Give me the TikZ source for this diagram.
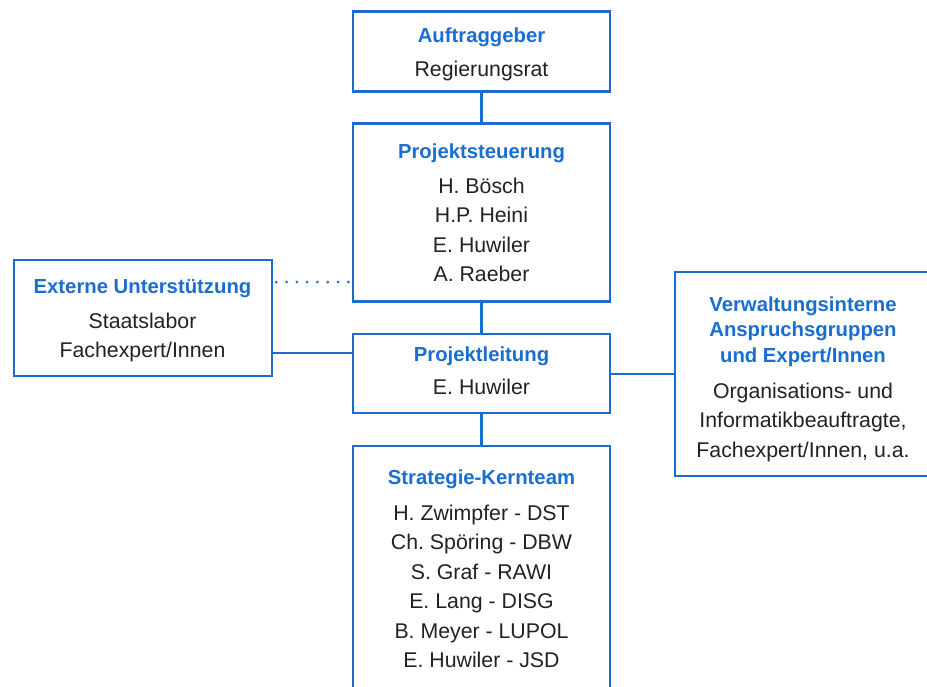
\documentclass[tikz,border=0pt]{standalone}
\usepackage{fontspec}
\setmainfont{Liberation Sans}
\frenchspacing
\definecolor{blu}{HTML}{1A6ED0}
\definecolor{txt}{HTML}{222222}
\begin{document}
\begin{tikzpicture}[x=1pt,y=-1pt,
  box/.style={draw=blu,line width=2.5pt,fill=white,rectangle,inner sep=0pt},
  ttl/.style={text=blu,font=\fontsize{20.3}{25}\selectfont\bfseries,inner sep=0pt,anchor=base},
  bod/.style={text=txt,font=\fontsize{21.3}{29.5}\selectfont,inner sep=0pt,anchor=base},
  con/.style={draw=blu,line width=2.5pt},
  dot/.style={draw=blu,line width=3pt,dash pattern=on 0pt off 10.3pt,line cap=round}]
\useasboundingbox (0,0) rectangle (927,686);
\clip (0,0) rectangle (927,686);
\fill[white] (0,0) rectangle (927,686);
% boxes
\node[box,minimum width=257pt,minimum height=80pt] (auf) at (481.5,51.5) {};
\node[box,minimum width=257pt,minimum height=178pt] (ps) at (481.5,212.5) {};
\node[box,minimum width=257pt,minimum height=79pt] (pl) at (481.5,373.5) {};
\node[box,minimum width=257pt,minimum height=260pt] (sk) at (481.5,576) {};
\node[box,minimum width=258pt,minimum height=116pt] (ext) at (143,318) {};
\node[box,minimum width=280pt,minimum height=204pt] (vw) at (815,374) {};
% connectors
\draw[con] (auf.south) -- (ps.north);
\draw[con] (ps.south) -- (pl.north);
\draw[con] (pl.south) -- (sk.north);
\coordinate (extr) at (ext.east |- 0,353);
\draw[con] (extr) -- (pl.west |- extr);
\coordinate (dotA) at ([xshift=3pt]ext.east |- 0,282);
\coordinate (dotB) at ([xshift=75.2pt]ext.east |- 0,282);
\draw[dot] (dotA) -- (dotB);
\draw[con] (pl.east |- 0,374) -- (vw.west |- 0,374);
% texts
\node[ttl] (t1) at (481.5,42) {Auftraggeber};
\node[bod] (b1) at (481.5,76) {Regierungsrat};
\node[ttl] (t2) at (481.5,158) {Projektsteuerung};
\node[bod] (b2a) at (481.5,193) {H. Bösch};
\node[bod] (b2b) at (481.5,222.5) {H.P. Heini};
\node[bod] (b2c) at (481.5,252) {E. Huwiler};
\node[bod] (b2d) at (481.5,281.5) {A. Raeber};
\node[ttl] (t3) at (481.5,361) {Projektleitung};
\node[bod] (b3) at (481.5,394) {E. Huwiler};
\node[ttl] (t4) at (481.5,484) {Strategie-Kernteam};
\node[bod] (b4a) at (481.5,520) {H. Zwimpfer - DST};
\node[bod] (b4b) at (481.5,549.5) {Ch. Spöring - DBW};
\node[bod] (b4c) at (481.5,579) {S. Graf - RAWI};
\node[bod] (b4d) at (481.5,608.5) {E. Lang - DISG};
\node[bod] (b4e) at (481.5,638) {B. Meyer - LUPOL};
\node[bod] (b4f) at (481.5,667.5) {E. Huwiler - JSD};
\node[ttl] (t5) at (142.5,293) {Externe Unterstützung};
\node[bod] (b5a) at (142.5,328) {Staatslabor};
\node[bod] (b5b) at (142.5,357) {Fachexpert/Innen};
\node[ttl] (t6a) at (803,311) {Verwaltungsinterne};
\node[ttl] (t6b) at (803,336.5) {Anspruchsgruppen};
\node[ttl] (t6c) at (803,362) {und Expert/Innen};
\node[bod] (b6a) at (803,398) {Organisations- und};
\node[bod] (b6b) at (803,427.5) {Informatikbeauftragte,};
\node[bod] (b6c) at (803,457) {Fachexpert/Innen, u.a.};
\end{tikzpicture}
\end{document}
